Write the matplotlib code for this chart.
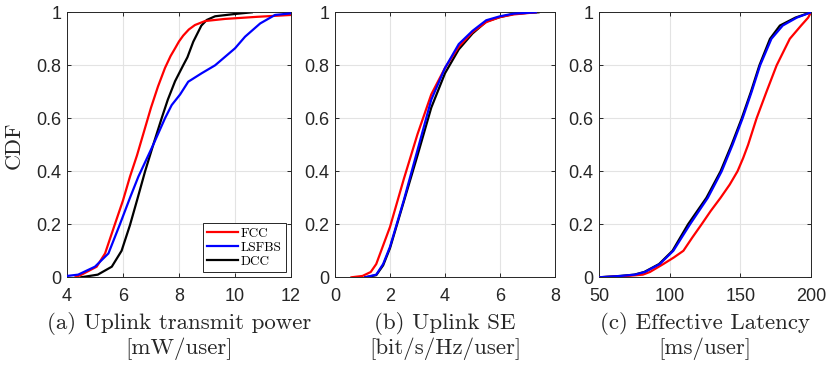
import numpy as np
import matplotlib
matplotlib.use("Agg")
import matplotlib.pyplot as plt

# ---------------- data ----------------
# (a) uplink transmit power [mW/user]
a_fcc_x = [4.3, 4.52, 5.06, 5.36, 5.71, 6.0, 6.25, 6.5, 6.75, 7.0, 7.25, 7.5, 7.7, 7.86, 8.0, 8.15, 8.35, 8.57, 8.93, 9.64, 10.8, 12]
a_fcc_y = [0, 0.01, 0.04, 0.09, 0.2, 0.29, 0.38, 0.46, 0.55, 0.64, 0.72, 0.79, 0.835, 0.864, 0.89, 0.912, 0.935, 0.952, 0.967, 0.975, 0.983, 0.99]
a_lsf_x = [4.0, 4.4, 5.0, 5.48, 5.89, 6.25, 6.55, 7.08, 7.5, 7.74, 8.04, 8.33, 8.81, 9.29, 10.0, 10.36, 10.9, 11.43, 12]
a_lsf_y = [0.005, 0.01, 0.04, 0.09, 0.2, 0.30, 0.38, 0.50, 0.60, 0.65, 0.69, 0.738, 0.77, 0.80, 0.864, 0.908, 0.958, 0.99, 0.996]
a_dcc_x = [4.5, 5.1, 5.6, 5.95, 6.25, 6.5, 6.79, 7.08, 7.38, 7.6, 7.86, 8.15, 8.3, 8.51, 8.8, 8.99, 9.29, 9.94, 10.6]
a_dcc_y = [0, 0.01, 0.04, 0.10, 0.197, 0.29, 0.40, 0.50, 0.60, 0.67, 0.74, 0.80, 0.83, 0.889, 0.95, 0.971, 0.985, 0.993, 1.0]

# (b) uplink SE [bit/s/Hz/user]
b_fcc_x = [0.6, 1.0, 1.3, 1.5, 1.75, 2.0, 2.5, 3.0, 3.5, 4.0, 4.5, 5.0, 5.5, 6.0, 6.5, 7.0, 7.3]
b_fcc_y = [0, 0.005, 0.02, 0.05, 0.12, 0.19, 0.37, 0.54, 0.69, 0.79, 0.87, 0.925, 0.963, 0.982, 0.992, 0.997, 1.0]
b_lsf_x = [1.1, 1.5, 1.75, 2.0, 2.5, 3.0, 3.5, 4.0, 4.5, 5.0, 5.5, 6.0, 6.5, 7.0, 7.3]
b_lsf_y = [0, 0.01, 0.05, 0.115, 0.29, 0.48, 0.67, 0.79, 0.88, 0.93, 0.97, 0.985, 0.995, 0.998, 1.0]
b_dcc_x = [1.1, 1.5, 1.75, 2.0, 2.5, 3.0, 3.5, 4.0, 4.5, 5.0, 5.5, 6.0, 6.5, 7.0, 7.4]
b_dcc_y = [0, 0.008, 0.045, 0.11, 0.285, 0.46, 0.64, 0.77, 0.86, 0.92, 0.965, 0.982, 0.994, 0.998, 1.0]

# (c) effective latency [ms/user]
c_fcc_x = [50, 60, 70, 81, 86, 95.5, 103, 109.7, 116, 122.6, 129, 136, 142.5, 148, 152, 155.5, 161.5, 168.5, 175.7, 185, 193, 198, 200]
c_fcc_y = [0, 0.002, 0.005, 0.01, 0.02, 0.05, 0.075, 0.10, 0.15, 0.20, 0.25, 0.30, 0.35, 0.40, 0.45, 0.50, 0.60, 0.70, 0.80, 0.90, 0.95, 0.98, 1.0]
c_lsf_x = [50, 65, 75.5, 82.5, 93, 102.6, 114.4, 127, 136.8, 144.5, 151.6, 158, 164, 172, 180, 190, 200]
c_lsf_y = [0, 0.005, 0.01, 0.02, 0.05, 0.10, 0.20, 0.30, 0.40, 0.50, 0.60, 0.70, 0.80, 0.90, 0.95, 0.98, 1.0]
c_dcc_x = [50, 65, 75, 82, 92.5, 102, 113, 126, 136, 143.8, 151, 157.5, 163.5, 171, 178, 189, 200]
c_dcc_y = [0, 0.005, 0.01, 0.02, 0.05, 0.10, 0.20, 0.30, 0.40, 0.50, 0.60, 0.70, 0.80, 0.90, 0.95, 0.98, 1.0]

labels = ['FCC', 'LSFBS', 'DCC']
colors = ['#ff0000', '#0000ff', '#000000']

panels = [
    dict(data=[(a_fcc_x, a_fcc_y), (a_lsf_x, a_lsf_y), (a_dcc_x, a_dcc_y)],
         xlim=(4, 12), xticks=[4, 6, 8, 10, 12],
         xlabel='(a) Uplink transmit power\n[mW/user]'),
    dict(data=[(b_fcc_x, b_fcc_y), (b_lsf_x, b_lsf_y), (b_dcc_x, b_dcc_y)],
         xlim=(0, 8), xticks=[0, 2, 4, 6, 8],
         xlabel='(b) Uplink SE\n[bit/s/Hz/user]'),
    dict(data=[(c_fcc_x, c_fcc_y), (c_lsf_x, c_lsf_y), (c_dcc_x, c_dcc_y)],
         xlim=(50, 200), xticks=[50, 100, 150, 200],
         xlabel='(c) Effective Latency\n[ms/user]'),
]

serif = 'cmr10'
axcol = '#262626'
zorders = [3, 4, 2]

fig = plt.figure(figsize=(8.3, 3.65), dpi=100)
lefts = [0.0807, 0.4036, 0.7217]
widths = [0.2699, 0.2651, 0.2554]

for k, p in enumerate(panels):
    ax = fig.add_axes([lefts[k], 0.2403, widths[k], 0.726])
    for (x, y), lab, col, z in zip(p['data'], labels, colors, zorders):
        ax.plot(x, y, color=col, lw=1.6, label=lab, zorder=z)
    ax.set_xlim(*p['xlim'])
    ax.set_ylim(0, 1)
    ax.set_xticks(p['xticks'])
    ax.set_yticks([0, 0.2, 0.4, 0.6, 0.8, 1])
    ax.set_yticklabels(['0', '0.2', '0.4', '0.6', '0.8', '1'])
    ax.grid(True, color='#e3e3e3', lw=0.8)
    ax.set_axisbelow(True)
    ax.tick_params(direction='in', top=True, right=True, length=3, width=0.7,
                   colors=axcol, labelsize=13)
    ax.tick_params(axis='x', pad=8)
    ax.tick_params(axis='y', pad=4)
    for lbl in ax.get_xticklabels() + ax.get_yticklabels():
        lbl.set_fontfamily('Liberation Sans')
    for s in ax.spines.values():
        s.set_color(axcol)
        s.set_linewidth(0.7)
    ax.set_xlabel(p['xlabel'], family=serif, fontsize=16.5, color='#262626',
                  linespacing=1.15, labelpad=5)
    if k == 0:
        ax.set_ylabel('CDF', family=serif, fontsize=16, color='#262626', labelpad=9)
        leg = ax.legend(loc='lower right', prop={'family': serif, 'size': 9.5},
                        handlelength=2.35, handletextpad=0.2, borderpad=0.3,
                        labelspacing=0.15, fancybox=False, framealpha=1,
                        borderaxespad=0.4)
        leg.get_frame().set_edgecolor(axcol)
        leg.get_frame().set_linewidth(0.7)

fig.savefig('out.png', dpi=100)
